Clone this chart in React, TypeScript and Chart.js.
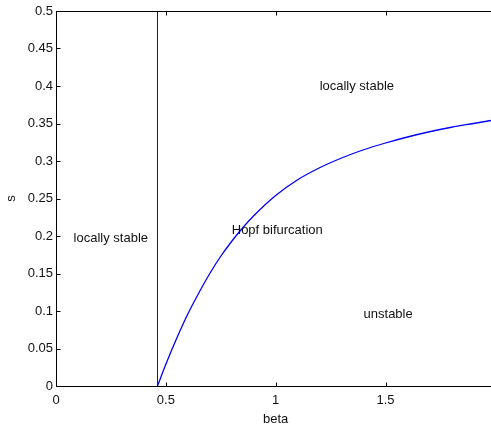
import React, { useEffect, useRef } from "react";
import { Chart, registerables } from "chart.js";

Chart.register(...registerables);

// Hopf bifurcation boundary s(beta)
const hopfBeta = [0.462, 0.5, 0.55, 0.6, 0.65, 0.7, 0.75, 0.8, 0.85, 0.9, 1.0, 1.1, 1.2, 1.3, 1.4, 1.5, 1.6, 1.7, 1.8, 1.9, 2.0];
const hopfS = [0, 0.029, 0.064, 0.096, 0.124, 0.15, 0.173, 0.193, 0.211, 0.227, 0.254, 0.275, 0.291, 0.304, 0.315, 0.324, 0.332, 0.339, 0.345, 0.35, 0.355];

// vertical stability boundary
const boundaryBeta = 0.462;
const boundaryS = [0, 0.5];

// axis ticks
const xTickValues = [0, 0.5, 1, 1.5, 2];
const xTickLabels = ["0", "0.5", "1", "1.5", "2"];
const yTickValues = [0, 0.05, 0.1, 0.15, 0.2, 0.25, 0.3, 0.35, 0.4, 0.45, 0.5];
const yTickLabels = ["0", "0.05", "0.1", "0.15", "0.2", "0.25", "0.3", "0.35", "0.4", "0.45", "0.5"];

// region annotations (left edge of text, vertical centre)
const noteTexts = ["locally stable", "Hopf bifurcation", "locally stable", "unstable"];
const noteBeta = [0.08, 0.8, 1.2, 1.4];
const noteS = [0.197, 0.207, 0.4, 0.096];

const FONT = '"Liberation Sans", Arial, Helvetica, sans-serif';

const framePlugin = {
  id: "matlabFrame",
  afterDatasetsDraw(chart: any) {
    const { ctx, chartArea, scales } = chart;
    const { left, right, top, bottom } = chartArea;
    const xs = scales.x;
    const ys = scales.y;
    const L = Math.round(left) + 0.5;
    const R = Math.round(right) + 0.5;
    const T = Math.round(top) + 0.5;
    const B = Math.round(bottom) + 0.5;
    ctx.save();
    ctx.strokeStyle = "#000";
    ctx.lineWidth = 1;
    ctx.strokeRect(L, T, R - L, B - T);
    const tickLen = 4;
    ctx.beginPath();
    xTickValues.forEach((v) => {
      const px = Math.round(xs.getPixelForValue(v)) + 0.5;
      ctx.moveTo(px, B);
      ctx.lineTo(px, B - tickLen);
      ctx.moveTo(px, T);
      ctx.lineTo(px, T + tickLen);
    });
    yTickValues.forEach((v) => {
      const py = Math.round(ys.getPixelForValue(v)) + 0.5;
      ctx.moveTo(L, py);
      ctx.lineTo(L + tickLen, py);
      ctx.moveTo(R, py);
      ctx.lineTo(R - tickLen, py);
    });
    ctx.stroke();

    ctx.font = `13px ${FONT}`;
    ctx.fillStyle = "#111";
    ctx.textAlign = "left";
    ctx.textBaseline = "middle";
    noteTexts.forEach((t, i) => {
      ctx.fillText(t, xs.getPixelForValue(noteBeta[i]), ys.getPixelForValue(noteS[i]));
    });
    ctx.restore();
  },
};

export default function App() {
  const canvasRef = useRef<HTMLCanvasElement | null>(null);

  useEffect(() => {
    const canvas = canvasRef.current;
    if (!canvas) return;
    const chart = new Chart(canvas, {
      type: "line",
      data: {
        datasets: [
          {
            label: "boundary",
            data: boundaryS.map((s) => ({ x: boundaryBeta, y: s })),
            borderColor: "#222",
            borderWidth: 1,
            pointRadius: 0,
            fill: false,
          },
          {
            label: "Hopf",
            data: hopfBeta.map((b, i) => ({ x: b, y: hopfS[i] })),
            borderColor: "#0000ff",
            borderWidth: 1.3,
            pointRadius: 0,
            cubicInterpolationMode: "monotone",
            fill: false,
          },
        ],
      },
      options: {
        responsive: false,
        animation: false,
        devicePixelRatio: 1,
        events: [],
        layout: { padding: { left: 0, right: 5.4, top: 11, bottom: 0 } },
        plugins: {
          legend: { display: false },
          tooltip: { enabled: false },
        },
        scales: {
          x: {
            type: "linear",
            min: 0,
            max: 2,
            grid: { display: false, drawTicks: false },
            border: { display: false },
            afterBuildTicks: (scale: any) => {
              scale.ticks = xTickValues.map((v) => ({ value: v }));
            },
            afterFit: (scale: any) => {
              scale.height = 43;
            },
            ticks: {
              autoSkip: false,
              maxRotation: 0,
              padding: 7,
              color: "#111",
              font: { family: FONT, size: 13 },
              callback: (v: any) => xTickLabels[xTickValues.indexOf(Number(v))],
            },
            title: {
              display: true,
              text: "beta",
              color: "#111",
              font: { family: FONT, size: 13 },
              padding: { top: 0, bottom: 2 },
            },
          },
          y: {
            type: "linear",
            min: 0,
            max: 0.5,
            grid: { display: false, drawTicks: false },
            border: { display: false },
            afterBuildTicks: (scale: any) => {
              scale.ticks = yTickValues.map((v) => ({ value: v }));
            },
            afterFit: (scale: any) => {
              scale.width = 56;
            },
            ticks: {
              autoSkip: false,
              padding: 3,
              color: "#111",
              font: { family: FONT, size: 13 },
              callback: (v: any) => yTickLabels[yTickValues.indexOf(Number(v))],
            },
            title: {
              display: true,
              text: "s",
              color: "#111",
              font: { family: FONT, size: 13 },
              padding: { top: 4, bottom: 0 },
            },
          },
        },
      },
      plugins: [framePlugin],
    } as any);
    return () => chart.destroy();
  }, []);

  return (
    <div
      style={{
        position: "fixed",
        left: 0,
        top: 0,
        width: 491,
        height: 429,
        overflow: "hidden",
        background: "#fff",
      }}
    >
      <canvas ref={canvasRef} width={506} height={429} style={{ display: "block" }} />
    </div>
  );
}
